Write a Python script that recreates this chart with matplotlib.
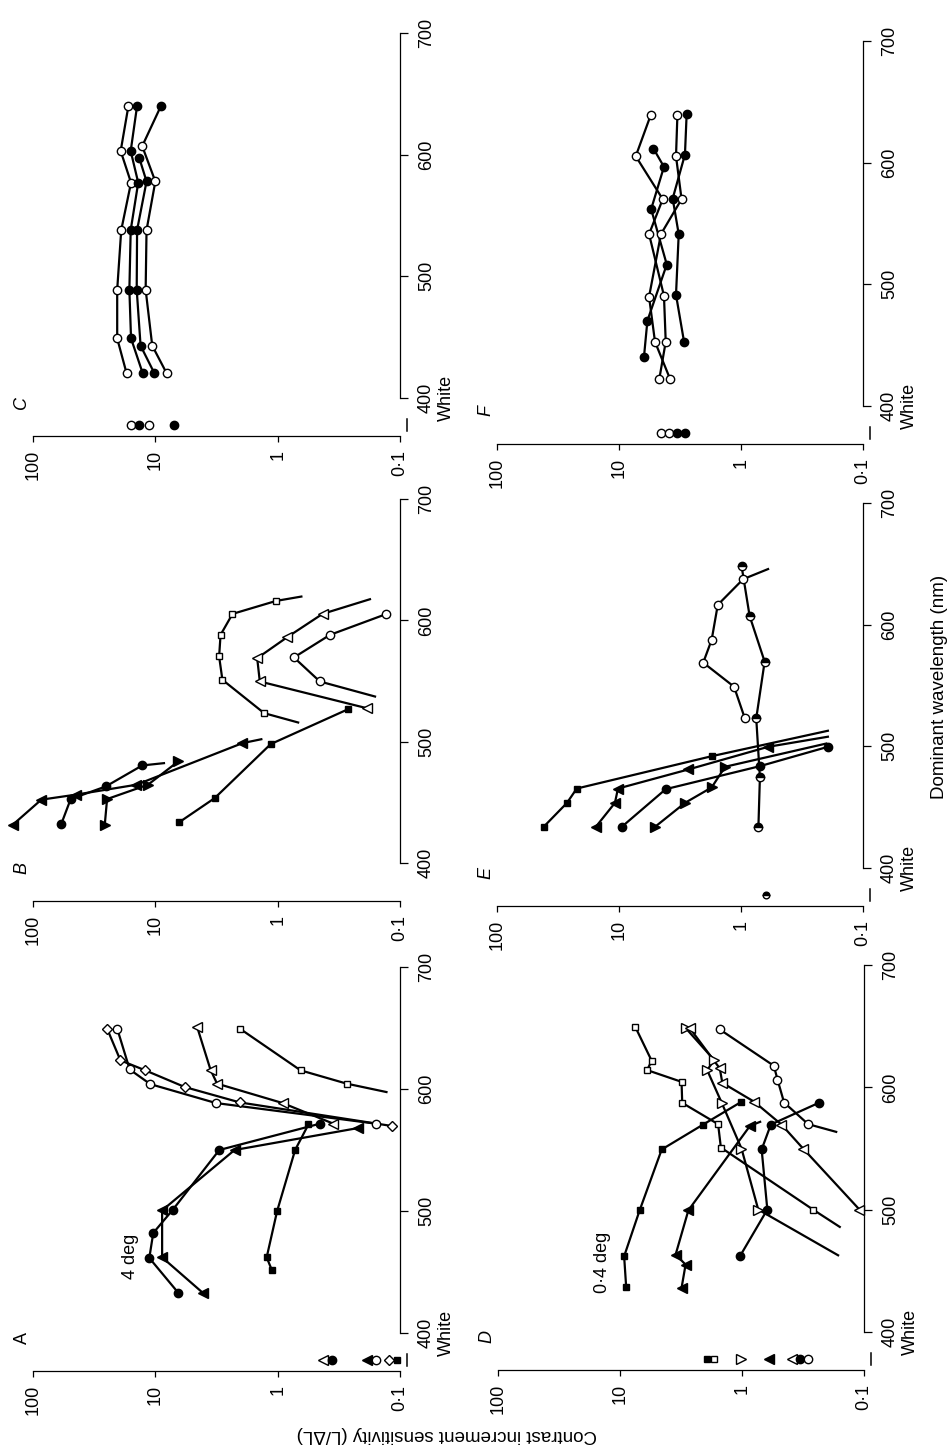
import matplotlib
matplotlib.use('Agg')
import matplotlib.pyplot as plt
import matplotlib.transforms as mtransforms

plt.rcParams['font.family'] = ['Liberation Sans', 'DejaVu Sans']

# wavelength (nm) and contrast increment sensitivity (L/dL)

# A - 4 deg field
a_white = [0.424, 0.358, 0.187, 0.158, 0.123, 0.106]
a_circ_f_wl = [433, 461.5, 482, 501, 550, 571.6]
a_circ_f_s = [6.5, 11.2, 10.4, 7.2, 3.0, 0.45]
a_tri_f_wl = [433, 462, 500.5, 550, 568]
a_tri_f_s = [4.1, 8.8, 8.8, 2.25, 0.22]
a_sq_f_wl = [452, 462, 500, 550, 571]
a_sq_f_s = [1.12, 1.23, 1.01, 0.72, 0.56]
a_circ_o_wl = [571.6, 588.5, 604, 616, 649.5]
a_circ_o_s = [0.158, 3.2, 11.0, 16.2, 20.5]
a_dia_o_wl = [569.7, 589, 601.6, 615.3, 623.5, 649.5]
a_dia_o_s = [0.117, 2.04, 5.74, 12.1, 19.3, 24.8]
a_tri_o_wl = [571.6, 588.5, 604.4, 615.8, 650.8]
a_tri_o_s = [0.351, 0.912, 3.13, 3.54, 4.55]
a_sq_o_wl = [597.5, 604.4, 615.3, 649.5]
a_sq_o_s = [0.129, 0.273, 0.65, 2.04]

# B
b_tri_f_wl = [431.6, 452.2, 456.3, 464.5, 498.8, 502]
b_tri_f_s = [146, 85.5, 44.8, 14.3, 1.94, 1.36]
b_circ_f_wl = [432.4, 452.7, 463.1, 480.4, 482.3]
b_circ_f_s = [58.6, 49.2, 25.4, 12.8, 8.5]
b_tri_d_wl = [431.6, 452.7, 464.5, 483.7]
b_tri_d_s = [25.9, 24.8, 11.5, 6.5]
b_sq_f_wl = [433.5, 453.5, 498, 526.8]
b_sq_f_s = [6.4, 3.27, 1.14, 0.265]
b_sq_o_wl = [515.8, 523.5, 551, 570.2, 588, 605.3, 616, 619.6]
b_sq_o_s = [0.68, 1.29, 2.83, 3.01, 2.93, 2.34, 1.03, 0.64]
b_tri_o_wl = [527.6, 549.6, 568.8, 586.1, 605.3, 617.4]
b_tri_o_s = [0.187, 1.40, 1.47, 0.836, 0.43, 0.176]
b_circ_o_wl = [537.2, 549.6, 569.4, 588, 605]
b_circ_o_s = [0.16, 0.452, 0.736, 0.374, 0.131]

# C
c_white = [15.8, 13.5, 11.3, 7.1]
c1_wl = [420.5, 449, 489, 538, 577, 603, 640]
c1_s = [17.2, 20.5, 20.5, 19.0, 15.8, 19.2, 16.6]
c2_wl = [420.5, 449, 489, 538, 577, 603, 640]
c2_s = [12.7, 15.8, 16.3, 15.9, 13.8, 15.9, 14.1]
c3_wl = [420.5, 443, 489, 538, 578, 597]
c3_s = [10.2, 13.2, 14.2, 14.1, 11.8, 13.5]
c4_wl = [420.5, 443, 489, 538, 578, 607, 640]
c4_s = [8.1, 10.6, 12.0, 11.8, 10.0, 12.8, 9.0]

# D - 0.4 deg field
d_white = [1.95, 1.70, 1.01, 0.60, 0.386, 0.336, 0.287]
d_sq_f_wl = [436.8, 461.9, 499.5, 549.2, 569.6, 588.2]
d_sq_f_s = [8.9, 9.25, 6.9, 4.55, 2.08, 1.01]
d_tri_f_wl = [436, 455.1, 463.3, 499.5, 568.5, 571.8]
d_tri_f_s = [3.13, 2.90, 3.50, 2.75, 0.86, 0.71]
d_circ_f_wl = [461.9, 500.1, 549.2, 569.6, 587.3]
d_circ_f_s = [1.04, 0.62, 0.69, 0.58, 0.235]
d_sq_o_wl = [485.9, 500.1, 550.8, 569.9, 587.3, 604.5, 614.1, 621.7, 649.5]
d_sq_o_s = [0.158, 0.262, 1.49, 1.57, 3.09, 3.13, 6.0, 5.5, 7.5]
d_tri_r_wl = [462.7, 500.1, 550, 587.6, 614.1, 622.3, 648.2]
d_tri_r_s = [0.163, 0.736, 1.01, 1.47, 1.93, 1.69, 2.88]
d_tri_o_wl = [500.1, 550, 569.6, 588.2, 603.7, 615.4, 648.2]
d_tri_o_s = [0.109, 0.316, 0.475, 0.794, 1.45, 1.52, 2.67]
d_circ_o_wl = [563.6, 569.9, 587.6, 606.4, 617.6, 647.3]
d_circ_o_s = [0.169, 0.287, 0.452, 0.512, 0.548, 1.52]

# E
e_white = [0.62]
e_sq_f_wl = [433.8, 453.5, 465.3, 492, 512.8]
e_sq_f_s = [41.5, 26.7, 22.2, 1.72, 0.194]
e_tri_f_wl = [433.8, 453.5, 465.3, 481, 499.6, 507.9]
e_tri_f_s = [15.5, 10.8, 10.2, 2.70, 0.60, 0.194]
e_circ_f_wl = [433.8, 464.8, 483.7, 499.6]
e_circ_f_s = [9.5, 4.14, 0.70, 0.194]
e_tri_r_wl = [433.8, 453.5, 466.2, 483.2, 502.3]
e_tri_r_s = [5.07, 2.88, 1.74, 1.35, 0.2]
e_half_wl = [433.8, 474.4, 523, 569.6, 607.2, 648.4]
e_half_s = [0.72, 0.70, 0.75, 0.64, 0.85, 0.99]
e_circ_o_wl = [523, 549, 568.8, 587.5, 616.3, 637.4, 645.7]
e_circ_o_s = [0.93, 1.14, 2.04, 1.74, 1.55, 0.96, 0.60]

# F
f_white = [4.55, 3.87, 3.32, 2.88]
f_open1_wl = [422.4, 452.8, 490.6, 541.3, 570.0, 605.3, 639.0]
f_open1_s = [4.67, 4.14, 4.28, 5.67, 4.38, 7.29, 5.50]
f_open2_wl = [422.4, 452.8, 489.8, 541.3, 570.0, 605.3, 639.5]
f_open2_s = [3.82, 5.07, 5.67, 4.53, 3.07, 3.41, 3.32]
f_fill1_wl = [452.8, 491.4, 541.3, 570.5, 606.7, 639.8]
f_fill1_s = [2.93, 3.41, 3.24, 3.63, 2.88, 2.79]
f_fill2_wl = [440.5, 470.1, 516.3, 561.8, 596.6, 611.6]
f_fill2_s = [6.24, 5.85, 4.06, 5.45, 4.28, 5.22]

s_ticks = [100, 10, 1, 0.1]
s_labels = ['100', '10', '1', '0·1']
wl_ticks = [400, 500, 600, 700]

W, H = 949, 1451
WL_MIN, WL_MAX = 369, 712
WHITE_WL = 378

# per point style: f filled, o open, h half filled, - line only
panels = [
    ('A', (33, 400, 1333, 967), [
        (a_circ_f_wl, a_circ_f_s, 'o', 'ffffff'),
        (a_tri_f_wl, a_tri_f_s, '<', 'fffff'),
        (a_sq_f_wl, a_sq_f_s, 's', 'fffff'),
        (a_circ_o_wl, a_circ_o_s, 'o', 'ooooo'),
        (a_dia_o_wl, a_dia_o_s, 'D', 'oooooo'),
        (a_tri_o_wl, a_tri_o_s, '<', 'ooooo'),
        (a_sq_o_wl, a_sq_o_s, 's', '-ooo'),
    ], a_white, [('<', 'o'), ('o', 'f'), ('<', 'f'), ('o', 'o'), ('D', 'o'), ('s', 'f')]),
    ('B', (33, 400, 863, 499), [
        (b_tri_f_wl, b_tri_f_s, '<', 'fffff-'),
        (b_circ_f_wl, b_circ_f_s, 'o', 'ffff-'),
        (b_tri_d_wl, b_tri_d_s, '>', 'ffff'),
        (b_sq_f_wl, b_sq_f_s, 's', 'ffff'),
        (b_sq_o_wl, b_sq_o_s, 's', '-oooooo-'),
        (b_tri_o_wl, b_tri_o_s, '<', 'ooooo-'),
        (b_circ_o_wl, b_circ_o_s, 'o', '-oooo'),
    ], None, None),
    ('C', (33, 400, 398, 33), [
        (c1_wl, c1_s, 'o', 'ooooooo'),
        (c2_wl, c2_s, 'o', 'fffffff'),
        (c3_wl, c3_s, 'o', 'ffffff'),
        (c4_wl, c4_s, 'o', 'oooooof'),
    ], c_white, [('o', 'o'), ('o', 'f'), ('o', 'o'), ('o', 'f')]),
    ('D', (498, 864, 1332, 965), [
        (d_sq_f_wl, d_sq_f_s, 's', 'ffffff'),
        (d_tri_f_wl, d_tri_f_s, '<', 'fffff-'),
        (d_circ_f_wl, d_circ_f_s, 'o', 'fffff'),
        (d_sq_o_wl, d_sq_o_s, 's', '-oooooooo'),
        (d_tri_r_wl, d_tri_r_s, '>', '-oooooo'),
        (d_tri_o_wl, d_tri_o_s, '<', 'ooooooo'),
        (d_circ_o_wl, d_circ_o_s, 'o', '-ooooo'),
    ], d_white, [('s', 'f'), ('s', 'o'), ('>', 'o'), ('<', 'f'), ('<', 'o'), ('o', 'f'), ('o', 'o')]),
    ('E', (497, 863, 868, 503), [
        (e_sq_f_wl, e_sq_f_s, 's', 'ffff-'),
        (e_tri_f_wl, e_tri_f_s, '<', 'fffff-'),
        (e_circ_f_wl, e_circ_f_s, 'o', 'ffff'),
        (e_tri_r_wl, e_tri_r_s, '>', 'ffff-'),
        (e_half_wl, e_half_s, 'o', 'hhhhhh'),
        (e_circ_o_wl, e_circ_o_s, 'o', 'oooooo-'),
    ], e_white, [('o', 'h')]),
    ('F', (497, 863, 406, 41), [
        (f_open1_wl, f_open1_s, 'o', 'ooooooo'),
        (f_open2_wl, f_open2_s, 'o', 'ooooooo'),
        (f_fill1_wl, f_fill1_s, 'o', 'ffffff'),
        (f_fill2_wl, f_fill2_s, 'o', 'ffffff'),
    ], f_white, [('o', 'o'), ('o', 'o'), ('o', 'f'), ('o', 'f')]),
]

msize = {'o': 6.0, 's': 5.0, 'D': 4.6, '<': 6.6, '>': 6.6}


def mark(ax, x, y, m, kind, small=False):
    ms = msize[m] * (0.8 if small else 1.0)
    kw = dict(marker=m, ms=ms, mec='black', mew=1.0, ls='none', zorder=4, clip_on=False)
    if kind == 'f':
        kw.update(mfc='black')
    elif kind == 'o':
        kw.update(mfc='white')
    else:
        kw.update(mfc='black', fillstyle='top', markerfacecoloralt='white')
    ax.plot(x, y, **kw)


fig = plt.figure(figsize=(W / 100, H / 100), dpi=100)

for name, (x100, x01, y400, y700), series, white, white_m in panels:
    ppn = (y400 - y700) / 300.0
    ybot = y400 + (400 - WL_MIN) * ppn
    ytop = y700 - (WL_MAX - 700) * ppn
    ax = fig.add_axes([x100 / W, 1 - ybot / H, (x01 - x100) / W, (ybot - ytop) / H])
    ax.set_xscale('log')
    ax.set_xlim(100, 0.1)
    ax.set_ylim(WL_MIN, WL_MAX)
    ax.patch.set_alpha(0)

    for wl, s, m, kinds in series:
        ax.plot(s, wl, color='black', lw=1.6, zorder=2, clip_on=False)
        for xi, yi, k in zip(s, wl, kinds):
            if k != '-':
                mark(ax, [xi], [yi], m, k)

    trans = mtransforms.blended_transform_factory(ax.transAxes, ax.transData)
    if white is not None:
        for v, (m, k) in zip(white, white_m):
            mark(ax, [v], [WHITE_WL], m, k, small=(name == 'E'))
        ax.plot([1.02, 1.02], [373, 383], color='black', lw=1.1, transform=trans, clip_on=False)

    for sp in ['top', 'left']:
        ax.spines[sp].set_visible(False)
    ax.spines['bottom'].set_linewidth(0.9)
    ax.spines['right'].set_linewidth(0.9)
    ax.spines['right'].set_bounds(400, 700)

    ax.xaxis.set_minor_locator(matplotlib.ticker.NullLocator())
    ax.set_xticks(s_ticks)
    ax.set_xticklabels(s_labels)
    ax.tick_params(axis='x', direction='out', length=4, width=0.9, pad=6,
                   labelsize=13, labelrotation=90)

    ax.yaxis.tick_right()
    ax.set_yticks(wl_ticks)
    lab400 = '400' if white is None else '400\nWhite'
    ax.set_yticklabels([lab400, '500', '600', '700'])
    ax.tick_params(axis='y', direction='out', length=6, width=0.9, pad=7,
                   labelsize=13, labelrotation=90)
    for lbl in ax.get_yticklabels():
        lbl.set_va('center')
        lbl.set_multialignment('center')
        lbl.set_linespacing(1.25)

    ax.text(-0.03, 396, name, transform=trans, rotation=90, ha='center', va='center',
            fontsize=13, style='normal' if name == 'A' else 'italic')

    if name == 'A':
        ax.text(16.1, 463, '4 deg', rotation=90, ha='center', va='center', fontsize=13)
    if name == 'D':
        ax.text(13.8, 457, '0·4 deg', rotation=90, ha='center', va='center', fontsize=13)

fig.text(940 / W, 1 - 687 / H, 'Dominant wavelength (nm)', rotation=90,
         ha='center', va='center', fontsize=13.5)
fig.text(447 / W, 1 - 1434 / H, 'Contrast increment sensitivity (L/ΔL)', rotation=180,
         ha='center', va='center', fontsize=13.5)

fig.savefig('out.png', dpi=100)
